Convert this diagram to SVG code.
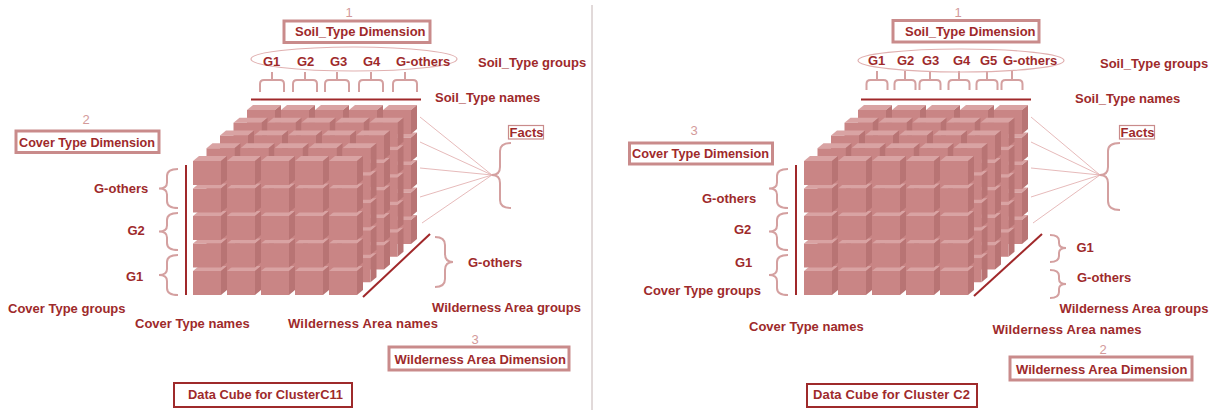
<svg xmlns="http://www.w3.org/2000/svg" xmlns:xlink="http://www.w3.org/1999/xlink" width="1219" height="410" viewBox="0 0 1219 410">
<style>
text{font-family:"Liberation Sans",Arial,sans-serif;}
.lb{font-size:13px;font-weight:bold;fill:#9e2a2b;}
.num{font-size:13px;fill:#d39a9a;text-anchor:middle;}
.box{fill:none;stroke:#c98b8b;stroke-width:3;}
.fbox{fill:none;stroke:#c98b8b;stroke-width:1.2;}
.dbox{fill:none;stroke:#9e2a2b;stroke-width:2;}
.ell{fill:none;stroke:#e0b0b0;stroke-width:1.2;}
.br{fill:none;stroke:#d4a0a0;stroke-width:2;}
.ax{stroke:#a0282a;stroke-width:2;fill:none;}
.fl{stroke:#e0a8a8;stroke-width:0.8;fill:none;}
.t{fill:#d9a3a3;}
.s{fill:#b87474;}
.f{fill:#c98585;}
</style>
<defs>
<g id="u"><polygon class="t" points="0,0 6,-5 34,-5 28,0"/><polygon class="s" points="28,0 34,-5 34,19 28,24"/><rect class="f" width="28" height="24"/></g>
<g id="row"><use xlink:href="#u"/><use xlink:href="#u" x="34"/><use xlink:href="#u" x="68"/><use xlink:href="#u" x="102"/><use xlink:href="#u" x="136"/></g>
<g id="layer"><use xlink:href="#row" y="110"/><use xlink:href="#row" y="82.5"/><use xlink:href="#row" y="55"/><use xlink:href="#row" y="27.5"/><use xlink:href="#row"/></g>
<g id="block"><use xlink:href="#layer" x="54" y="-51"/><use xlink:href="#layer" x="40.5" y="-38.25"/><use xlink:href="#layer" x="27" y="-25.5"/><use xlink:href="#layer" x="13.5" y="-12.75"/><use xlink:href="#layer"/></g>
</defs>
<rect width="1219" height="410" fill="#ffffff"/>
<line x1="592" y1="5" x2="592" y2="410" stroke="#c4b4b4" stroke-width="1"/>

<!-- LEFT PANEL -->
<g id="cube-left"><use xlink:href="#block" x="193" y="161"/></g>
<g id="connectors-left">
<line class="ax" x1="251" y1="99.5" x2="421" y2="99.5"/>
<line class="ax" x1="186" y1="165" x2="186" y2="295"/>
<line class="ax" x1="430" y1="234" x2="363" y2="297"/>
<line class="fl" x1="420" y1="117" x2="492" y2="175"/>
<line class="fl" x1="420" y1="142" x2="492" y2="175"/>
<line class="fl" x1="420" y1="168" x2="492" y2="175"/>
<line class="fl" x1="420" y1="197" x2="492" y2="175"/>
<line class="fl" x1="422" y1="223" x2="492" y2="175"/>
<path class="br" d="M260,92 V84 Q260,80 264,80 H280 Q284,80 284,84 V92 M272,80 V72"/>
<path class="br" d="M293,92 V84 Q293,80 297,80 H313 Q317,80 317,84 V92 M305,80 V72"/>
<path class="br" d="M325,92 V84 Q325,80 329,80 H345 Q349,80 349,84 V92 M337,80 V72"/>
<path class="br" d="M359,92 V84 Q359,80 363,80 H379 Q383,80 383,84 V92 M371,80 V72"/>
<path class="br" d="M393,92 V84 Q393,80 397,80 H413 Q417,80 417,84 V92 M405,80 V72"/>
<path class="br" d="M178,169 Q167,169 167,176 V182.5 Q167,188.5 159,188.5 Q167,188.5 167,194.5 V201 Q167,208 178,208"/>
<path class="br" d="M178,213 Q167,213 167,220 V225.5 Q167,231.5 159,231.5 Q167,231.5 167,237.5 V243 Q167,250 178,250"/>
<path class="br" d="M178,255 Q167,255 167,262 V269 Q167,275 159,275 Q167,275 167,281 V288 Q167,295 178,295"/>
<path class="br" d="M511,143 Q500,143 500,151 V167 Q500,175 492,175 Q500,175 500,183 V200 Q500,208 511,208"/>
<path class="br" d="M435,237 Q445,237 445,245 V254 Q445,262 453,262 Q445,262 445,270 V279 Q445,287 435,287"/>
</g>
<g id="soil-dim-left">
<text class="num" x="349" y="17">1</text>
<rect class="box" x="284" y="21" width="146" height="21.5"/>
<text class="lb" x="295" y="36">Soil_Type Dimension</text>
</g>
<g id="soil-groups-left">
<ellipse class="ell" cx="354" cy="59" rx="103" ry="12"/>
<text class="lb" x="263" y="65.5">G1</text>
<text class="lb" x="297" y="65.5">G2</text>
<text class="lb" x="330" y="65.5">G3</text>
<text class="lb" x="363" y="65.5">G4</text>
<text class="lb" x="396" y="65.5">G-others</text>
<text class="lb" x="478" y="66.5">Soil_Type groups</text>
<text class="lb" x="435" y="102">Soil_Type names</text>
</g>
<g id="facts-left">
<rect class="fbox" x="508.5" y="125.5" width="35" height="13.5"/>
<text class="lb" x="509.5" y="137">Facts</text>
</g>
<g id="cover-dim-left">
<text class="num" x="86" y="124">2</text>
<rect class="box" x="16" y="131" width="143" height="21.5"/>
<text class="lb" x="19" y="147" textLength="136" lengthAdjust="spacingAndGlyphs">Cover Type Dimension</text>
</g>
<g id="cover-groups-left">
<text class="lb" x="94" y="193">G-others</text>
<text class="lb" x="127.5" y="235">G2</text>
<text class="lb" x="126" y="281">G1</text>
<text class="lb" x="8" y="313">Cover Type groups</text>
<text class="lb" x="135" y="328">Cover Type names</text>
</g>
<g id="wild-left">
<text class="lb" x="468" y="267">G-others</text>
<text class="lb" x="432" y="312">Wilderness Area groups</text>
<text class="lb" x="288" y="328" textLength="150" lengthAdjust="spacing">Wilderness Area names</text>
<text class="num" x="475" y="344">3</text>
<rect class="box" x="389" y="347" width="180" height="23"/>
<text class="lb" x="394.5" y="364">Wilderness Area Dimension</text>
</g>
<g id="title-left">
<rect class="dbox" x="174" y="383" width="178" height="24"/>
<text class="lb" x="188" y="399" textLength="155" lengthAdjust="spacingAndGlyphs">Data Cube for ClusterC11</text>
</g>

<!-- RIGHT PANEL -->
<g id="cube-right"><use xlink:href="#block" x="804" y="161"/></g>
<g id="connectors-right">
<line class="ax" x1="861" y1="99.5" x2="1031" y2="99.5"/>
<line class="ax" x1="796" y1="165" x2="796" y2="295"/>
<line class="ax" x1="1042" y1="234" x2="974" y2="296"/>
<line class="fl" x1="1031" y1="117" x2="1100" y2="175"/>
<line class="fl" x1="1031" y1="142" x2="1100" y2="175"/>
<line class="fl" x1="1031" y1="168" x2="1100" y2="175"/>
<line class="fl" x1="1031" y1="197" x2="1100" y2="175"/>
<line class="fl" x1="1033" y1="223" x2="1100" y2="175"/>
<path class="br" d="M866.5,90 V84 Q866.5,80 870.5,80 H883.5 Q887.5,80 887.5,84 V90 M877,80 V71"/>
<path class="br" d="M894.5,90 V84 Q894.5,80 898.5,80 H911.5 Q915.5,80 915.5,84 V90 M905,80 V71"/>
<path class="br" d="M919.5,90 V84 Q919.5,80 923.5,80 H936.5 Q940.5,80 940.5,84 V90 M930,80 V71"/>
<path class="br" d="M948.5,90 V84 Q948.5,80 952.5,80 H965.5 Q969.5,80 969.5,84 V90 M959,80 V71"/>
<path class="br" d="M976.5,90 V84 Q976.5,80 980.5,80 H993.5 Q997.5,80 997.5,84 V90 M987,80 V71"/>
<path class="br" d="M1001.5,90 V84 Q1001.5,80 1005.5,80 H1018.5 Q1022.5,80 1022.5,84 V90 M1012,80 V71"/>
<path class="br" d="M788,169 Q777,169 777,176 V182.5 Q777,188.5 769,188.5 Q777,188.5 777,194.5 V201 Q777,208 788,208"/>
<path class="br" d="M788,213 Q777,213 777,220 V225.5 Q777,231.5 769,231.5 Q777,231.5 777,237.5 V243 Q777,250 788,250"/>
<path class="br" d="M788,255 Q777,255 777,262 V269 Q777,275 769,275 Q777,275 777,281 V288 Q777,295 788,295"/>
<path class="br" d="M1120,143 Q1108,143 1108,151 V167 Q1108,175 1100,175 Q1108,175 1108,183 V201 Q1108,210 1120,210"/>
<path class="br" d="M1050,235 Q1059,235 1059,241 V243 Q1059,248 1066,248 Q1059,248 1059,253 V256 Q1059,262 1050,262"/>
<path class="br" d="M1050,270 Q1059,270 1059,276 V279 Q1059,284 1066,284 Q1059,284 1059,289 V292 Q1059,298 1050,298"/>
</g>
<g id="soil-dim-right">
<text class="num" x="958" y="17">1</text>
<rect class="box" x="893" y="20.5" width="146" height="21.5"/>
<text class="lb" x="905" y="35.5">Soil_Type Dimension</text>
</g>
<g id="soil-groups-right">
<ellipse class="ell" cx="961" cy="60.5" rx="103" ry="11.5"/>
<text class="lb" x="868" y="64.5">G1</text>
<text class="lb" x="897" y="64.5">G2</text>
<text class="lb" x="922" y="64.5">G3</text>
<text class="lb" x="953" y="64.5">G4</text>
<text class="lb" x="980" y="64.5">G5</text>
<text class="lb" x="1003" y="64.5">G-others</text>
<text class="lb" x="1100" y="68">Soil_Type groups</text>
<text class="lb" x="1075" y="103">Soil_Type names</text>
</g>
<g id="facts-right">
<rect class="fbox" x="1119.5" y="125.5" width="35" height="13.5"/>
<text class="lb" x="1120.5" y="137">Facts</text>
</g>
<g id="cover-dim-right">
<text class="num" x="694" y="135">3</text>
<rect class="box" x="629.5" y="143" width="143" height="21"/>
<text class="lb" x="632" y="158" textLength="137" lengthAdjust="spacingAndGlyphs">Cover Type Dimension</text>
</g>
<g id="cover-groups-right">
<text class="lb" x="702" y="203">G-others</text>
<text class="lb" x="734" y="234">G2</text>
<text class="lb" x="735" y="267">G1</text>
<text class="lb" x="643.5" y="295">Cover Type groups</text>
<text class="lb" x="749" y="331">Cover Type names</text>
</g>
<g id="wild-right">
<text class="lb" x="1076.5" y="252">G1</text>
<text class="lb" x="1077" y="282">G-others</text>
<text class="lb" x="1059.5" y="313">Wilderness Area groups</text>
<text class="lb" x="992.5" y="334" textLength="149" lengthAdjust="spacing">Wilderness Area names</text>
<text class="num" x="1103" y="354">2</text>
<rect class="box" x="1010" y="357" width="182" height="23"/>
<text class="lb" x="1016" y="374">Wilderness Area Dimension</text>
</g>
<g id="title-right">
<rect class="dbox" x="807" y="384" width="170" height="23"/>
<text class="lb" x="813" y="399" textLength="157" lengthAdjust="spacing">Data Cube for Cluster C2</text>
</g>
</svg>
